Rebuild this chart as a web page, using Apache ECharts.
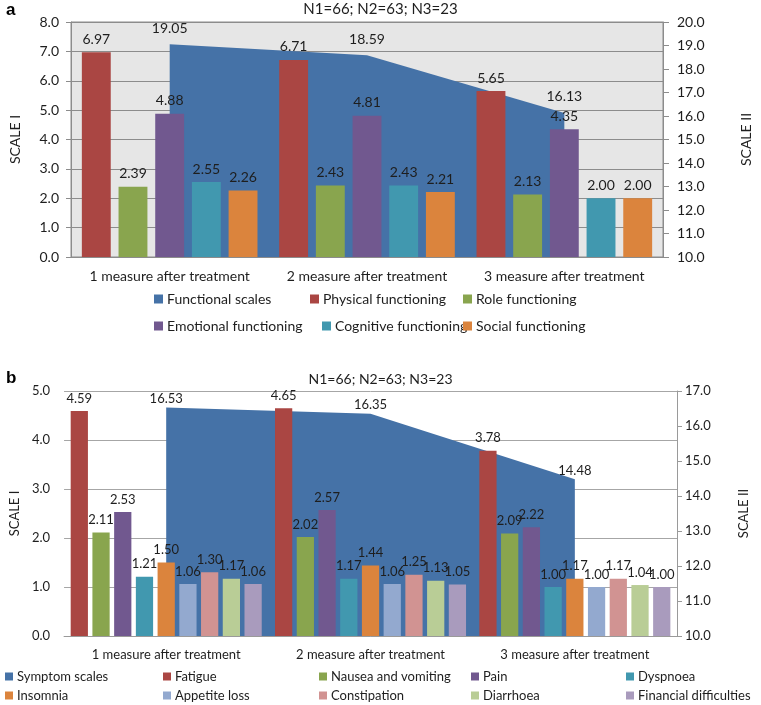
<!DOCTYPE html>
<html>
<head>
<meta charset="utf-8">
<script src="https://cdn.jsdelivr.net/npm/echarts@6/dist/echarts.min.js"></script>
<style>
html,body{margin:0;padding:0;background:#fff;}
#chart{width:761px;height:705px;}
</style>
</head>
<body>
<div id="chart"></div>
<script>
// ---------- DATA ----------
const categories = ['1 measure after treatment', '2 measure after treatment', '3 measure after treatment'];
const titleText = 'N1=66; N2=63; N3=23';

// Panel a
const functionalScales = [19.05, 18.59, 16.13];
const physicalFunctioning = [6.97, 6.71, 5.65];
const roleFunctioning = [2.39, 2.43, 2.13];
const emotionalFunctioning = [4.88, 4.81, 4.35];
const cognitiveFunctioning = [2.55, 2.43, 2.00];
const socialFunctioning = [2.26, 2.21, 2.00];

// Panel b
const symptomScales = [16.53, 16.35, 14.48];
const fatigue = [4.59, 4.65, 3.78];
const nauseaVomiting = [2.11, 2.02, 2.09];
const pain = [2.53, 2.57, 2.22];
const dyspnoea = [1.21, 1.17, 1.00];
const insomnia = [1.50, 1.44, 1.17];
const appetiteLoss = [1.06, 1.06, 1.00];
const constipation = [1.30, 1.25, 1.17];
const diarrhoea = [1.17, 1.13, 1.04];
const financialDifficulties = [1.06, 1.05, 1.00];

// ---------- STYLE ----------
const FONT = 'Lato';
const TXT = '#1e1e1e';
const AREA = '#4572A7';

const barsA = [
  ['Physical functioning', physicalFunctioning, '#AA4643'],
  ['Role functioning', roleFunctioning, '#89A54E'],
  ['Emotional functioning', emotionalFunctioning, '#71588F'],
  ['Cognitive functioning', cognitiveFunctioning, '#4198AF'],
  ['Social functioning', socialFunctioning, '#DB843D']
];
const barsB = [
  ['Fatigue', fatigue, '#AA4643'],
  ['Nausea and vomiting', nauseaVomiting, '#89A54E'],
  ['Pain', pain, '#71588F'],
  ['Dyspnoea', dyspnoea, '#4198AF'],
  ['Insomnia', insomnia, '#DB843D'],
  ['Appetite loss', appetiteLoss, '#93A9CF'],
  ['Constipation', constipation, '#D19392'],
  ['Diarrhoea', diarrhoea, '#B9CD96'],
  ['Financial difficulties', financialDifficulties, '#A99BBD']
];

const fmt1 = v => v.toFixed(1);

const series = [];
// area a
series.push({
  name: 'Functional scales', type: 'line', xAxisIndex: 0, yAxisIndex: 1,
  data: functionalScales, symbol: 'circle', symbolSize: 0, showSymbol: true,
  itemStyle: {color: AREA}, lineStyle: {width: 0, color: AREA},
  areaStyle: {color: AREA, opacity: 1, origin: 'start'},
  label: {show: true, position: 'top', distance: 9, color: TXT, fontSize: 14, fontFamily: FONT,
    formatter: p => p.value.toFixed(2)},
  z: 1
});
barsA.forEach(([name, data, color]) => {
  series.push({
    name, type: 'bar', xAxisIndex: 0, yAxisIndex: 0, data,
    barCategoryGap: '11%', barGap: '27%',
    itemStyle: {color},
    label: {show: true, position: 'top', distance: 6, color: TXT, fontSize: 14, fontFamily: FONT,
      formatter: p => p.value.toFixed(2)},
    z: 3
  });
});
// area b
series.push({
  name: 'Symptom scales', type: 'line', xAxisIndex: 1, yAxisIndex: 3,
  data: symptomScales, symbol: 'circle', symbolSize: 0, showSymbol: true,
  itemStyle: {color: AREA}, lineStyle: {width: 0, color: AREA},
  areaStyle: {color: AREA, opacity: 1, origin: 'start'},
  label: {show: true, position: 'top', distance: 2, color: TXT, fontSize: 13, fontFamily: FONT,
    formatter: p => p.value.toFixed(2)},
  z: 1
});
barsB.forEach(([name, data, color]) => {
  series.push({
    name, type: 'bar', xAxisIndex: 1, yAxisIndex: 2, data,
    barCategoryGap: '6.5%', barGap: '26%',
    itemStyle: {color},
    label: {show: true, position: 'top', distance: 6, color: TXT, fontSize: 13, fontFamily: FONT,
      formatter: p => p.value.toFixed(2)},
    z: 3
  });
});

// legends (layout config)
const legendA = [
  ['Functional scales', 154, 300], ['Physical functioning', 310, 300], ['Role functioning', 463, 300],
  ['Emotional functioning', 154, 327], ['Cognitive functioning', 322, 327], ['Social functioning', 463, 327]
];
const legendB = [
  ['Symptom scales', 5, 677], ['Fatigue', 163, 677], ['Nausea and vomiting', 319, 677], ['Pain', 471, 677], ['Dyspnoea', 626, 677],
  ['Insomnia', 5, 696], ['Appetite loss', 163, 696], ['Constipation', 319, 696], ['Diarrhoea', 471, 696], ['Financial difficulties', 626, 696]
];
const legends = [];
legendA.forEach(([n, x, y]) => legends.push({
  data: [n], left: x, top: y - 8, padding: 0, icon: 'rect', itemWidth: 9, itemHeight: 9,
  itemGap: 0, textStyle: {fontSize: 14, fontFamily: FONT, color: TXT, padding: [0, 0, 0, -1]}, selectedMode: false
}));
legendB.forEach(([n, x, y]) => legends.push({
  data: [n], left: x, top: y - 7, padding: 0, icon: 'rect', itemWidth: 8, itemHeight: 8,
  itemGap: 0, textStyle: {fontSize: 13, fontFamily: FONT, color: TXT, padding: [0, 0, 0, -1]}, selectedMode: false
}));

const axisLabelStyle = (fs) => ({color: TXT, fontSize: fs, fontFamily: FONT});

const option = {
  animation: false,
  backgroundColor: '#ffffff',
  title: [
    {text: 'a', left: 1, top: -3, textStyle: {fontSize: 17, fontWeight: 'bold', fontFamily: 'Liberation Sans', color: '#000'}},
    {text: titleText, left: 'center', top: -3, textStyle: {fontSize: 15, fontWeight: 'normal', fontFamily: FONT, color: TXT}},
    {text: 'b', left: 1, top: 365, textStyle: {fontSize: 17, fontWeight: 'bold', fontFamily: 'Liberation Sans', color: '#000'}},
    {text: titleText, left: 'center', top: 367, textStyle: {fontSize: 14, fontWeight: 'normal', fontFamily: FONT, color: TXT}}
  ],
  legend: legends,
  grid: [
    {left: 71, right: 76, top: 22, height: 235, show: true, backgroundColor: '#e6e6e6', borderColor: '#8c8c8c', borderWidth: 1, containLabel: false},
    {left: 57, right: 84, top: 391, height: 245, show: false, containLabel: false}
  ],
  xAxis: [
    {type: 'category', gridIndex: 0, data: categories,
      axisLine: {show: true, lineStyle: {color: '#8c8c8c'}}, axisTick: {show: false},
      axisLabel: Object.assign({margin: 12, interval: 0}, axisLabelStyle(14))},
    {type: 'category', gridIndex: 1, data: categories,
      axisLine: {show: true, lineStyle: {color: '#9a9a9a'}}, axisTick: {show: false},
      axisLabel: Object.assign({margin: 12, interval: 0}, axisLabelStyle(13))}
  ],
  yAxis: [
    {type: 'value', gridIndex: 0, min: 0, max: 8, interval: 1, position: 'left',
      name: 'SCALE I', nameLocation: 'middle', nameRotate: 90, nameGap: 49,
      nameTextStyle: {fontSize: 14, fontFamily: FONT, color: TXT},
      axisLine: {show: true, lineStyle: {color: '#8c8c8c'}}, axisTick: {show: true, length: 5, lineStyle: {color: '#8c8c8c'}},
      splitLine: {show: true, lineStyle: {color: '#8c8c8c'}},
      axisLabel: Object.assign({formatter: fmt1, margin: 12}, axisLabelStyle(14))},
    {type: 'value', gridIndex: 0, min: 10, max: 20, interval: 1, position: 'right',
      name: 'SCALE II', nameLocation: 'middle', nameRotate: 90, nameGap: 76,
      nameTextStyle: {fontSize: 14, fontFamily: FONT, color: TXT},
      axisLine: {show: true, lineStyle: {color: '#8c8c8c'}}, axisTick: {show: true, length: 6, lineStyle: {color: '#8c8c8c'}},
      splitLine: {show: false},
      axisLabel: Object.assign({formatter: fmt1, margin: 14}, axisLabelStyle(14))},
    {type: 'value', gridIndex: 1, min: 0, max: 5, interval: 1, position: 'left',
      name: 'SCALE I', nameLocation: 'middle', nameRotate: 90, nameGap: 37,
      nameTextStyle: {fontSize: 13, fontFamily: FONT, color: TXT},
      axisLine: {show: false}, axisTick: {show: false},
      splitLine: {show: true, lineStyle: {color: '#a6a6a6'}},
      axisLabel: Object.assign({formatter: fmt1, margin: 14}, axisLabelStyle(13))},
    {type: 'value', gridIndex: 1, min: 10, max: 17, interval: 1, position: 'right',
      name: 'SCALE II', nameLocation: 'middle', nameRotate: 90, nameGap: 60,
      nameTextStyle: {fontSize: 13, fontFamily: FONT, color: TXT},
      axisLine: {show: true, lineStyle: {color: '#9a9a9a'}}, axisTick: {show: true, length: 5, lineStyle: {color: '#9a9a9a'}},
      splitLine: {show: false},
      axisLabel: Object.assign({formatter: fmt1, margin: 8}, axisLabelStyle(13))}
  ],
  series
};

const chart = echarts.init(document.getElementById('chart'), null, {renderer: 'canvas'});
chart.setOption(option);
</script>
</body>
</html>
